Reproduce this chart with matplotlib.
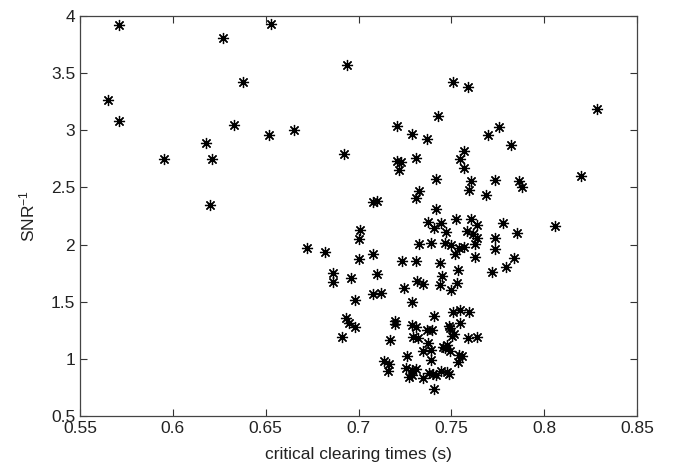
import matplotlib
matplotlib.use("Agg")
import matplotlib.pyplot as plt

plt.rcParams['font.family'] = ['Liberation Sans', 'DejaVu Sans']
plt.rcParams['mathtext.default'] = 'regular'

# critical clearing times (s) and SNR^-1
cct_sparse = [0.571, 0.627, 0.653, 0.694, 0.565, 0.571, 0.638, 0.633, 0.652, 0.665,
              0.618, 0.595, 0.621, 0.692, 0.620, 0.708, 0.710, 0.701, 0.700, 0.672,
              0.682, 0.708, 0.700, 0.686, 0.686, 0.696, 0.710, 0.708, 0.712, 0.698,
              0.693, 0.695, 0.698, 0.691, 0.7196, 0.7196, 0.717, 0.7136, 0.7166, 0.7157]
snr_sparse = [3.92, 3.81, 3.93, 3.57, 3.265, 3.08, 3.42, 3.05, 2.96, 3.00,
              2.89, 2.75, 2.75, 2.79, 2.35, 2.373, 2.38, 2.13, 2.05, 1.97,
              1.935, 1.92, 1.874, 1.754, 1.673, 1.71, 1.745, 1.565, 1.574, 1.515,
              1.361, 1.317, 1.282, 1.189, 1.33, 1.30, 1.165, 0.984, 0.953, 0.894]

cct_upper = [0.7507, 0.7588, 0.8286, 0.7426, 0.7209, 0.7288, 0.7369, 0.7758, 0.7697, 0.7819,
             0.7568, 0.7545, 0.7568, 0.7209, 0.7227, 0.722, 0.7308, 0.7419, 0.7608, 0.7597,
             0.7737, 0.7866, 0.7878, 0.7686, 0.8196, 0.7328, 0.7308, 0.7419, 0.7375, 0.7446,
             0.7406, 0.7469, 0.7526, 0.7608, 0.764, 0.7583, 0.7614, 0.7636, 0.7776, 0.7737,
             0.7737, 0.7853, 0.8058, 0.7327, 0.7389, 0.7466, 0.7498, 0.7541, 0.7568, 0.7627,
             0.752, 0.7627, 0.7236, 0.7308, 0.7437, 0.7537, 0.7719, 0.7796, 0.7837, 0.7447,
             0.7439, 0.7316, 0.7349, 0.7528, 0.7498, 0.7247, 0.7288]
snr_upper = [3.42, 3.376, 3.186, 3.128, 3.038, 2.965, 2.927, 3.032, 2.962, 2.874,
             2.822, 2.746, 2.673, 2.729, 2.723, 2.653, 2.755, 2.577, 2.556, 2.478,
             2.562, 2.556, 2.507, 2.434, 2.60, 2.469, 2.405, 2.311, 2.20, 2.191,
             2.142, 2.113, 2.227, 2.224, 2.169, 2.119, 2.09, 2.06, 2.186, 2.06,
             1.962, 2.099, 2.16, 2.008, 2.011, 2.017, 1.997, 1.968, 1.982, 2.005,
             1.915, 1.894, 1.859, 1.857, 1.836, 1.778, 1.757, 1.807, 1.885, 1.728,
             1.647, 1.684, 1.653, 1.667, 1.60, 1.618, 1.50]

cct_lower = [0.7409, 0.7507, 0.7546, 0.7596, 0.7286, 0.7309, 0.737, 0.7397, 0.7489, 0.7546,
             0.7295, 0.7319, 0.7376, 0.7502, 0.7514, 0.7588, 0.7638, 0.7474, 0.7466, 0.7492,
             0.7456, 0.7345, 0.7389, 0.7389, 0.7259, 0.7541, 0.7556, 0.7537, 0.7256, 0.7286,
             0.7309, 0.7273, 0.7286, 0.7349, 0.7381, 0.7403, 0.7444, 0.7478, 0.7489, 0.7417,
             0.7408, 0.749]
snr_lower = [1.372, 1.413, 1.425, 1.408, 1.297, 1.277, 1.25, 1.256, 1.29, 1.314,
             1.194, 1.186, 1.142, 1.195, 1.218, 1.18, 1.192, 1.122, 1.093, 1.072,
             1.107, 1.069, 1.078, 0.99, 1.025, 1.034, 1.025, 0.976, 0.923, 0.903,
             0.912, 0.844, 0.859, 0.836, 0.874, 0.865, 0.894, 0.883, 0.871, 0.859,
             0.737, 1.27]

cct = cct_sparse + cct_upper + cct_lower
snr = snr_sparse + snr_upper + snr_lower

fig = plt.figure(figsize=(6.73, 4.71), dpi=100)
ax = fig.add_axes([0.119, 0.117, 0.8275, 0.849])

# asterisk marker like the matlab '*'
ax.plot(cct, snr, linestyle='none', marker=(8, 2, 0), markersize=8,
        markeredgewidth=0.9, color='k')

ax.set_xlim(0.55, 0.85)
ax.set_ylim(0.5, 4)
ax.set_xticks([0.55, 0.6, 0.65, 0.7, 0.75, 0.8, 0.85])
ax.set_xticklabels(['0.55', '0.6', '0.65', '0.7', '0.75', '0.8', '0.85'])
ax.set_yticks([0.5, 1, 1.5, 2, 2.5, 3, 3.5, 4])
ax.set_yticklabels(['0.5', '1', '1.5', '2', '2.5', '3', '3.5', '4'])
ax.tick_params(direction='in', top=True, right=True, length=5, width=0.8,
               labelsize=12.5, colors='#333333', labelcolor='#222222')
for s in ax.spines.values():
    s.set_color('#444444')
    s.set_linewidth(0.9)

ax.set_xlabel('critical clearing times (s)', fontsize=12.5, color='#222222', labelpad=8)
ax.set_ylabel('SNR$^{-1}$', fontsize=12.5, color='#222222', labelpad=10)

fig.savefig('out.png', dpi=100)
